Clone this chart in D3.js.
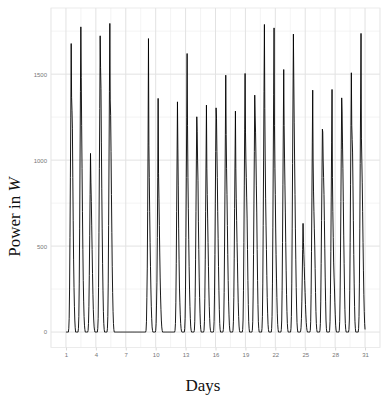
<!DOCTYPE html>
<html>
<head>
<meta charset="utf-8">
<script src="https://cdn.jsdelivr.net/npm/d3@7"></script>
<style>
  body { margin: 0; background: #fff; }
  svg { display: block; }
</style>
</head>
<body>
<div id="chart"></div>
<script>
// Tick labels
const xTicks = [1, 4, 7, 10, 13, 16, 19, 22, 25, 28, 31];
const yTicks = [0, 500, 1000, 1500];

// Hourly power (W) from 07:00 to 23:00 for each day of the month, zero otherwise
const profileStartHour = 7;
const hourlyPower = [
  [20, 80, 250, 550, 900, 1250, 1678, 1366, 1290, 1186, 900, 650, 420, 260, 150, 70, 25],
  [20, 90, 280, 600, 1000, 1400, 1775, 1480, 1200, 950, 700, 480, 300, 180, 90, 40, 15],
  [10, 50, 150, 330, 560, 800, 1039, 872, 760, 622, 480, 340, 220, 130, 70, 30, 10],
  [20, 80, 260, 580, 950, 1300, 1723, 1540, 1418, 1100, 837, 600, 400, 240, 120, 50, 15],
  [20, 90, 280, 620, 1000, 1400, 1795, 1350, 1260, 1050, 800, 580, 380, 230, 120, 50, 15],
  [0, 0, 0, 0, 0, 0, 0, 0, 0, 0, 0, 0, 0, 0, 0, 0, 0],
  [0, 0, 0, 0, 0, 0, 0, 0, 0, 0, 0, 0, 0, 0, 0, 0, 0],
  [0, 0, 0, 0, 0, 0, 0, 0, 0, 0, 0, 0, 0, 0, 0, 0, 0],
  [10, 60, 200, 372, 700, 1100, 1707, 1087, 900, 700, 520, 380, 250, 150, 80, 30, 10],
  [10, 50, 157, 290, 550, 900, 1359, 924, 779, 620, 460, 320, 210, 130, 70, 30, 10],
  [0, 0, 0, 0, 0, 0, 0, 0, 0, 0, 0, 0, 0, 0, 0, 0, 0],
  [10, 50, 170, 400, 700, 1000, 1339, 1070, 850, 600, 420, 256, 170, 100, 50, 20, 5],
  [20, 80, 250, 550, 900, 1250, 1620, 1200, 900, 720, 540, 380, 250, 150, 80, 30, 10],
  [10, 60, 200, 420, 700, 1000, 1252, 1165, 1000, 880, 641, 480, 320, 200, 110, 45, 15],
  [10, 60, 197, 420, 700, 1000, 1320, 953, 800, 663, 520, 380, 250, 150, 80, 30, 10],
  [10, 60, 210, 450, 750, 1050, 1304, 1244, 1050, 900, 700, 546, 380, 240, 130, 50, 15],
  [15, 70, 230, 500, 820, 1150, 1494, 1150, 950, 800, 620, 450, 300, 180, 100, 40, 12],
  [10, 60, 200, 430, 720, 1000, 1285, 950, 779, 650, 520, 407, 280, 170, 90, 35, 10],
  [15, 70, 240, 520, 850, 1180, 1504, 1163, 1000, 900, 780, 663, 480, 300, 160, 60, 20],
  [10, 60, 210, 450, 750, 1050, 1378, 1262, 1163, 1012, 850, 698, 480, 300, 160, 60, 20],
  [20, 90, 280, 620, 1000, 1400, 1789, 1300, 1000, 779, 622, 480, 330, 200, 110, 45, 15],
  [20, 90, 280, 610, 1000, 1380, 1769, 1200, 950, 800, 605, 450, 314, 200, 110, 45, 15],
  [15, 70, 240, 520, 860, 1200, 1527, 1200, 1012, 850, 698, 520, 360, 220, 120, 50, 15],
  [20, 90, 280, 600, 980, 1350, 1733, 1477, 1221, 1000, 800, 600, 420, 260, 140, 55, 18],
  [5, 25, 80, 180, 320, 480, 632, 520, 450, 380, 300, 230, 160, 100, 55, 25, 8],
  [10, 60, 220, 470, 780, 1100, 1407, 1000, 820, 700, 600, 506, 370, 230, 120, 50, 15],
  [10, 50, 180, 400, 650, 900, 1180, 1163, 1000, 900, 800, 650, 488, 320, 180, 70, 20],
  [10, 60, 220, 470, 780, 1100, 1411, 900, 700, 550, 407, 320, 256, 170, 100, 40, 12],
  [10, 60, 210, 460, 760, 1060, 1362, 1280, 1100, 950, 760, 564, 400, 250, 130, 50, 15],
  [15, 70, 240, 520, 860, 1200, 1508, 1203, 1120, 1047, 850, 650, 450, 280, 150, 60, 20],
  [20, 90, 280, 600, 980, 1350, 1737, 1128, 1000, 872, 700, 520, 360, 220, 120, 50, 15]
];

const W = 381, H = 396;
const panel = { left: 51, right: 380, top: 8, bottom: 347.5 };

// Flatten to an hourly series; the 744 hours are spread over the 1..31 axis
const nHours = hourlyPower.length * 24;
const series = [];
hourlyPower.forEach((profile, d) => {
  for (let h = 0; h < 24; h++) {
    const k = h - profileStartHour;
    const v = k >= 0 && k < profile.length ? profile[k] : 0;
    const t = d * 24 + h;
    series.push({ day: 1 + 30 * t / (nHours - 1), power: v });
  }
});

// ggplot-style 5% expansion
const xMin = 1, xMax = 31, yMax = d3.max(series, d => d.power);
const xPad = (xMax - xMin) * 0.05, yPad = yMax * 0.05;

const x = d3.scaleLinear()
  .domain([xMin - xPad, xMax + xPad])
  .range([panel.left, panel.right]);

const y = d3.scaleLinear()
  .domain([-yPad, yMax + yPad])
  .range([panel.bottom, panel.top]);

const svg = d3.select("#chart")
  .append("svg")
  .attr("width", W)
  .attr("height", H);

// Grid: minor halfway between majors
const xMinor = [xMin - 1.5].concat(xTicks.map(t => t + 1.5));
const yMinor = yTicks.map(t => t + 250);

const grid = svg.append("g");
grid.selectAll(".xminor").data(xMinor.filter(v => x(v) >= panel.left - 0.5 && x(v) <= panel.right + 0.5))
  .enter().append("line")
  .attr("x1", d => x(d)).attr("x2", d => x(d))
  .attr("y1", panel.top).attr("y2", panel.bottom)
  .attr("stroke", "#ececec").attr("stroke-width", 0.6);
grid.selectAll(".yminor").data(yMinor.filter(v => y(v) >= panel.top))
  .enter().append("line")
  .attr("x1", panel.left).attr("x2", panel.right)
  .attr("y1", d => y(d)).attr("y2", d => y(d))
  .attr("stroke", "#ececec").attr("stroke-width", 0.6);
grid.selectAll(".xmajor").data(xTicks)
  .enter().append("line")
  .attr("x1", d => x(d)).attr("x2", d => x(d))
  .attr("y1", panel.top).attr("y2", panel.bottom)
  .attr("stroke", "#e2e2e2").attr("stroke-width", 1);
grid.selectAll(".ymajor").data(yTicks)
  .enter().append("line")
  .attr("x1", panel.left).attr("x2", panel.right)
  .attr("y1", d => y(d)).attr("y2", d => y(d))
  .attr("stroke", "#e2e2e2").attr("stroke-width", 1);
grid.append("rect")
  .attr("x", panel.left).attr("y", panel.top)
  .attr("width", panel.right - panel.left)
  .attr("height", panel.bottom - panel.top)
  .attr("fill", "none").attr("stroke", "#e6e6e6").attr("stroke-width", 0.8);

// Axes (labels only, ggplot minimal look)
const xAxis = svg.append("g")
  .attr("transform", `translate(0,${panel.bottom})`)
  .call(d3.axisBottom(x).tickValues(xTicks).tickFormat(d3.format("d")).tickSize(3).tickPadding(2));
const yAxis = svg.append("g")
  .attr("transform", `translate(${panel.left},0)`)
  .call(d3.axisLeft(y).tickValues(yTicks).tickFormat(d3.format("d")).tickSize(0).tickPadding(4));

[xAxis, yAxis].forEach(a => {
  a.select(".domain").remove();
  a.selectAll(".tick line").attr("stroke", "#d8d8d8");
  a.selectAll("text")
    .attr("fill", "#777")
    .style("font-family", "'Liberation Sans', Arial, sans-serif")
    .style("font-size", "6px");
});

// Power line
const line = d3.line()
  .x(d => x(d.day))
  .y(d => y(d.power));

svg.append("path")
  .datum(series)
  .attr("d", line)
  .attr("fill", "none")
  .attr("stroke", "#000")
  .attr("stroke-width", 0.9)
  .attr("stroke-linejoin", "round");

// Axis titles
svg.append("text")
  .attr("x", 203)
  .attr("y", 391)
  .attr("text-anchor", "middle")
  .style("font-family", "'Liberation Serif', 'Times New Roman', serif")
  .style("font-size", "17px")
  .attr("fill", "#111")
  .text("Days");

const yTitle = svg.append("text")
  .attr("transform", "translate(20,217) rotate(-90)")
  .attr("text-anchor", "middle")
  .style("font-family", "'Liberation Serif', 'Times New Roman', serif")
  .style("font-size", "17px")
  .attr("fill", "#111");
yTitle.append("tspan").text("Power in ");
yTitle.append("tspan").style("font-style", "italic").text("W");
</script>
</body>
</html>
